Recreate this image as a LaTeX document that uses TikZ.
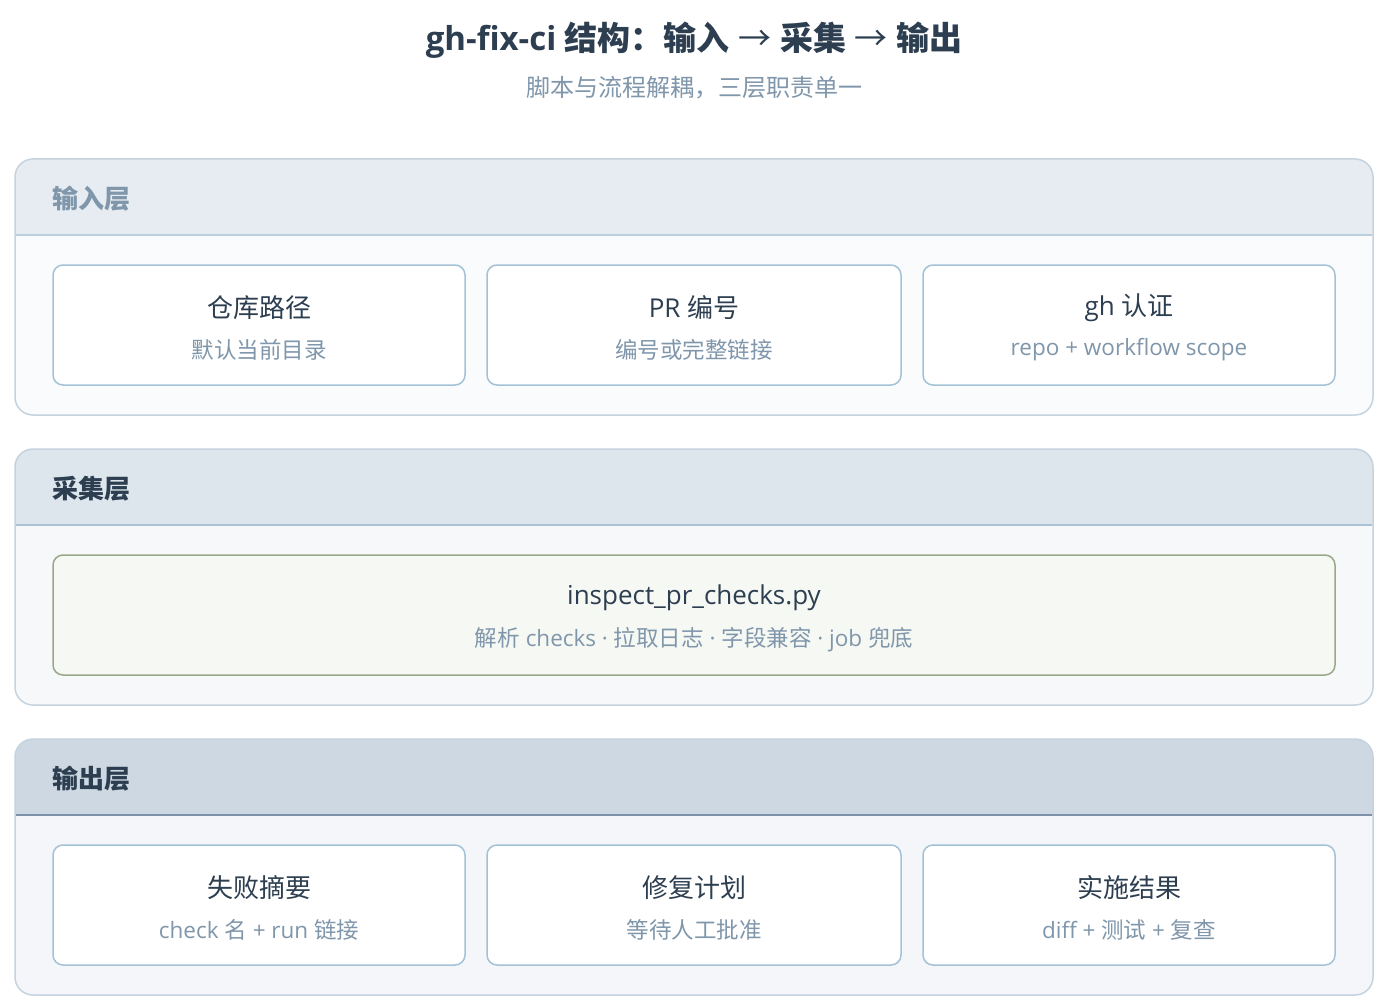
\documentclass[tikz,border=0pt]{standalone}
\usepackage{fontspec}
\setmainfont{Open Sans}
\newfontfamily\zh{Noto Sans CJK SC}
\definecolor{txt}{HTML}{2C3E50}
\definecolor{sub}{HTML}{7F96AB}
\definecolor{outerb}{HTML}{C5D3DF}
\definecolor{cardb}{HTML}{A3C2D6}
\definecolor{hA}{HTML}{E6ECF1}
\definecolor{hB}{HTML}{DDE5ED}
\definecolor{hC}{HTML}{CDD8E2}
\definecolor{bA}{HTML}{F9FBFC}
\definecolor{bB}{HTML}{F6F8FA}
\definecolor{bC}{HTML}{F4F6F9}
\definecolor{lA}{HTML}{BCCFDC}
\definecolor{lB}{HTML}{A8C3D6}
\definecolor{lC}{HTML}{7D92A8}
\definecolor{gfill}{HTML}{F6F8F3}
\definecolor{gborder}{HTML}{9AA88A}
\tikzset{
  card/.style={draw=cardb, line width=1.5pt, fill=white, rounded corners=10pt, minimum height=120pt, inner sep=0pt},
  ctitle/.style={text=txt, font=\fontsize{26}{30}\selectfont, inner sep=0pt},
  csub/.style={text=sub, font=\fontsize{22.5}{26}\selectfont, inner sep=0pt},
  hlabel/.style={font=\zh\bfseries\fontsize{26}{30}\selectfont, anchor=west, inner sep=0pt},
}
\begin{document}
\begin{tikzpicture}[x=1pt,y=-1pt]
\useasboundingbox[fill=white] (0,0) rectangle (1384,1006);
\node[text=txt, font=\bfseries\fontsize{33}{38}\selectfont, inner sep=0pt] (title) at (694,40) {gh-fix-ci {\zh 结构：输入} {\zh\mdseries →} {\zh 采集} {\zh\mdseries →} {\zh 输出}};
\node[text=sub, font=\zh\fontsize{24}{28}\selectfont, inner sep=0pt] (subtitle) at (694,88) {脚本与流程解耦，三层职责单一};
% layers
\foreach \yt/\hc/\bc/\lc in {159/hA/bA/lA, 449/hB/bB/lB, 739/hC/bC/lC}{
  \fill[\bc, rounded corners=18pt] (15,\yt) rectangle (1373,\yt+256);
  \begin{scope}
    \clip[rounded corners=18pt] (15,\yt) rectangle (1373,\yt+256);
    \fill[\hc] (15,\yt) rectangle (1373,\yt+76);
  \end{scope}
  \draw[\lc, line width=1.5pt] (15.75,\yt+76) -- (1372.25,\yt+76);
  \draw[outerb, line width=1.5pt, rounded corners=18pt] (15,\yt) rectangle (1373,\yt+256);
}
\node[hlabel, text=sub] (h1) at (52,199) {输入层};
\node[hlabel, text=txt] (h2) at (52,489) {采集层};
\node[hlabel, text=txt] (h3) at (52,779) {输出层};
% input cards
\node[card, minimum width=412pt] (a1) at (259,325) {};
\node[card, minimum width=414pt] (a2) at (694,325) {};
\node[card, minimum width=412pt] (a3) at (1129,325) {};
\node[ctitle] (a1t) at ([yshift=17pt]a1.center) {\zh 仓库路径};
\node[csub] (a1s) at ([yshift=-25pt]a1.center) {\zh 默认当前目录};
\node[ctitle] (a2t) at ([yshift=17pt]a2.center) {PR {\zh 编号}};
\node[csub] (a2s) at ([yshift=-25pt]a2.center) {\zh 编号或完整链接};
\node[ctitle] (a3t) at ([yshift=17pt]a3.center) {gh {\zh 认证}};
\node[csub] (a3s) at ([yshift=-25pt]a3.center) {repo + workflow scope};
% collect card
\node[card, draw=gborder, fill=gfill, minimum width=1282pt] (b1) at (694,615) {};
\node[ctitle] (b1t) at ([yshift=17pt]b1.center) {inspect\_pr\_checks.py};
\node[csub] (b1s) at ([yshift=-25pt]b1.center) {{\zh 解析} checks · {\zh 拉取日志} · {\zh 字段兼容} · job {\zh 兜底}};
% output cards
\node[card, minimum width=412pt] (c1) at (259,905) {};
\node[card, minimum width=414pt] (c2) at (694,905) {};
\node[card, minimum width=412pt] (c3) at (1129,905) {};
\node[ctitle] (c1t) at ([yshift=17pt]c1.center) {\zh 失败摘要};
\node[csub] (c1s) at ([yshift=-25pt]c1.center) {check {\zh 名} + run {\zh 链接}};
\node[ctitle] (c2t) at ([yshift=17pt]c2.center) {\zh 修复计划};
\node[csub] (c2s) at ([yshift=-25pt]c2.center) {\zh 等待人工批准};
\node[ctitle] (c3t) at ([yshift=17pt]c3.center) {\zh 实施结果};
\node[csub] (c3s) at ([yshift=-25pt]c3.center) {diff + {\zh 测试} + {\zh 复查}};
\end{tikzpicture}
\end{document}
